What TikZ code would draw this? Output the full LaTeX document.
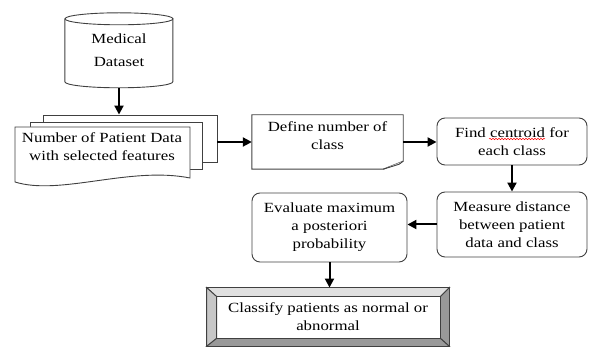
\documentclass[tikz,border=0pt]{standalone}
\usepackage{fontspec}
\setmainfont{Liberation Serif}[FakeStretch=1.2]
\usetikzlibrary{arrows.meta,calc,decorations.pathmorphing}

\begin{document}
\begin{tikzpicture}[x=1pt, y=-1pt,
        txt/.style={align=center, inner sep=0pt, font=\fontsize{14}{18}\selectfont},
        edge/.style={draw=black!75, line width=0.9pt},
        roundbox/.style={edge, rounded corners=8pt, txt},
        flow/.style={line width=2pt, -{Triangle[length=9pt,width=9pt]}}]
    \useasboundingbox (0,0) rectangle (589,347);

    % database
    \node[txt, minimum width=108pt, minimum height=75pt] (dataset) at (119,50.5) {Medical\\[5pt]Dataset};
    \draw[edge] (dataset.north west) ++(0,6) -- ++(0,63)
        arc[start angle=180, end angle=360, x radius=54pt, y radius=6pt] -- ++(0,-63);
    \draw[edge] (dataset.north) ++(0,6) ellipse[x radius=54pt, y radius=6pt];

    % stack of documents
    \node[edge, fill=white, minimum width=174pt, minimum height=47pt] (pages) at (130,138.5) {};
    \draw[edge, fill=white] (30,122) rectangle (202,169);
    \draw[edge, fill=white] (15,127) -- (190,127) -- (190,178)
        .. controls (130,166) and (60,196) .. (15,182) -- cycle;
    \node[txt] (records) at (102,147) {Number of Patient Data\\with selected features};

    % note with folded corner
    \node[minimum width=151pt, minimum height=54pt] (define) at (327.5,142) {};
    \draw[edge] (define.north west) -- (define.north east) -- ([yshift=8pt]define.south east)
        -- ([xshift=-20pt]define.south east) -- (define.south west) -- cycle;
    \draw[edge, fill=black!10] ([xshift=-20pt]define.south east) -- ([xshift=-4pt,yshift=5pt]define.south east)
        -- ([yshift=8pt]define.south east);
    \node[txt] (defineText) at ([yshift=6pt]define.center) {Define number of\\class};

    \node[roundbox, minimum width=150pt, minimum height=47pt] (find) at (512,141.5) {Find centroid for\\each class};
    \draw[red, line width=0.5pt, decorate, decoration={snake, amplitude=0.7pt, segment length=3pt}]
        (489,139) -- (545,139);
    \node[roundbox, minimum width=150pt, minimum height=65pt] (measure) at (512,224.5) {Measure distance\\between patient\\data and class};
    \node[roundbox, minimum width=155pt, minimum height=69pt] (evaluate) at (329.5,227.5) {Evaluate maximum\\a posteriori\\probability};

    % bevelled box
    \node[edge, txt, minimum width=242pt, minimum height=58pt] (classify) at (328,317) {Classify patients as normal or\\abnormal};
    \coordinate (inw) at ($(classify.north west)+(10,9)$);
    \coordinate (ine) at ($(classify.north east)+(-9,9)$);
    \coordinate (ise) at ($(classify.south east)+(-9,-8)$);
    \coordinate (isw) at ($(classify.south west)+(10,-8)$);
    \draw[edge, fill=black!12] (classify.north west) -- (classify.north east) -- (ine) -- (inw) -- cycle;
    \draw[edge, fill=black!22] (classify.north west) -- (inw) -- (isw) -- (classify.south west) -- cycle;
    \draw[edge, fill=black!40] (classify.north east) -- (classify.south east) -- (ise) -- (ine) -- cycle;
    \draw[edge, fill=black!40] (classify.south west) -- (isw) -- (ise) -- (classify.south east) -- cycle;

    % connectors
    \draw[flow] (dataset.south) -- (dataset.south |- pages.north);
    \draw[flow] (pages.east |- define.west) -- (define.west);
    \draw[flow] (define.east) -- (define.east -| find.west);
    \draw[flow] (find.south) -- (measure.north);
    \draw[flow] (measure.west) -- (measure.west -| evaluate.east);
    \draw[flow] (evaluate.south) -- (evaluate.south |- classify.north);
\end{tikzpicture}
\end{document}
